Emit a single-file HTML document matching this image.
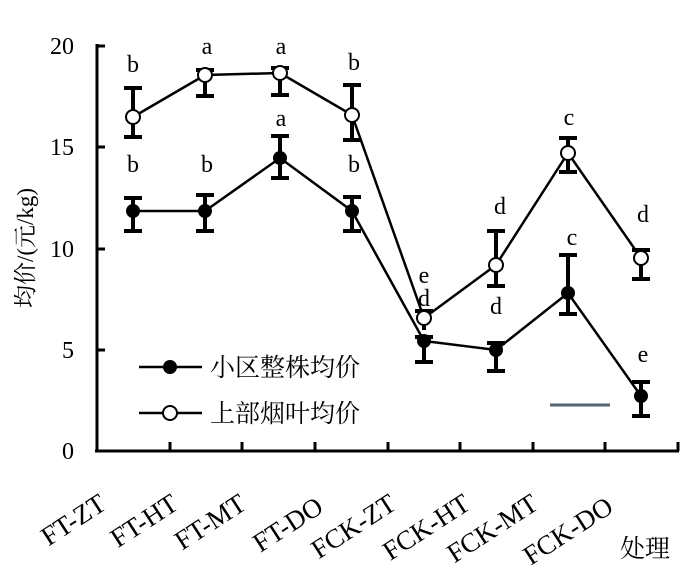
<!DOCTYPE html><html><head><meta charset="utf-8"><style>body{margin:0;background:#fff}</style></head><body>
<svg width="697" height="575" xmlns="http://www.w3.org/2000/svg" font-family="Liberation Serif, Noto Serif CJK SC, serif">
<g stroke="#000" stroke-width="3" fill="none">
<line x1="97" y1="44" x2="97" y2="452"/><line x1="95" y1="451" x2="679" y2="451"/>
<line x1="97" y1="46" x2="105" y2="46"/><line x1="97" y1="147" x2="105" y2="147"/><line x1="97" y1="249" x2="105" y2="249"/><line x1="97" y1="350" x2="105" y2="350"/>
<line x1="170" y1="451" x2="170" y2="442"/><line x1="242" y1="451" x2="242" y2="442"/><line x1="315" y1="451" x2="315" y2="442"/><line x1="388" y1="451" x2="388" y2="442"/><line x1="460" y1="451" x2="460" y2="442"/><line x1="533" y1="451" x2="533" y2="442"/><line x1="605" y1="451" x2="605" y2="442"/><line x1="678" y1="451" x2="678" y2="442"/>
</g>
<g font-size="24" text-anchor="end"><text x="74" y="54">20</text><text x="74" y="155">15</text><text x="74" y="257">10</text><text x="74" y="358">5</text><text x="74" y="459">0</text></g>
<text transform="translate(33,248) rotate(-90)" font-size="23" text-anchor="middle">均价/(元/kg)</text>
<g stroke="#000" stroke-width="2.5" fill="none">
<polyline points="133,211 205,211 280,158 352,211 424,341 496,350 568,293 641,396"/>
<polyline points="133,117 205,75 280,73 352,115 424,318 496,265 568,153 641,258"/>
</g>
<g stroke="#000" stroke-width="4">
<path d="M133,88V137M124,88H142M124,137H142 M205,70V96M196,70H214M196,96H214 M280,68V95M271,68H289M271,95H289 M352,85V140M343,85H361M343,140H361 M424,311V330M415,311H433 M496,231V286M487,231H505M487,286H505 M568,138V172M559,138H577M559,172H577 M641,250V279M632,250H650M632,279H650"/>
<path d="M133,198V231M124,198H142M124,231H142 M205,195V231M196,195H214M196,231H214 M280,136V178M271,136H289M271,178H289 M352,197V231M343,197H361M343,231H361 M424,337V362M415,337H433M415,362H433 M496,343V371M487,343H505M487,371H505 M568,255V314M559,255H577M559,314H577 M641,382V416M632,382H650M632,416H650"/>
</g>
<g fill="#000"><circle cx="133" cy="211" r="7"/><circle cx="205" cy="211" r="7"/><circle cx="280" cy="158" r="7"/><circle cx="352" cy="211" r="7"/><circle cx="424" cy="341" r="7"/><circle cx="496" cy="350" r="7"/><circle cx="568" cy="293" r="7"/><circle cx="641" cy="396" r="7"/></g>
<g fill="#fff" stroke="#000" stroke-width="2"><circle cx="133" cy="117" r="7"/><circle cx="205" cy="75" r="7"/><circle cx="280" cy="73" r="7"/><circle cx="352" cy="115" r="7"/><circle cx="424" cy="318" r="7"/><circle cx="496" cy="265" r="7"/><circle cx="568" cy="153" r="7"/><circle cx="641" cy="258" r="7"/></g>
<g font-size="24" text-anchor="middle">
<text x="133" y="72">b</text><text x="207" y="54">a</text><text x="281" y="54">a</text><text x="354" y="70">b</text>
<text x="133" y="172">b</text><text x="207" y="172">b</text><text x="281" y="126">a</text><text x="354" y="172">b</text>
<text x="424" y="283">e</text><text x="424" y="306">d</text><text x="500" y="214">d</text><text x="569" y="125">c</text><text x="643" y="222">d</text>
<text x="496" y="314">d</text><text x="572" y="245">c</text><text x="643" y="362">e</text>
</g>
<line x1="139" y1="367" x2="202" y2="367" stroke="#000" stroke-width="2.5"/><circle cx="170" cy="367" r="7"/>
<text x="210" y="376" font-size="25">小区整株均价</text>
<line x1="139" y1="413" x2="202" y2="413" stroke="#000" stroke-width="2.5"/><circle cx="170" cy="413" r="7" fill="#fff" stroke="#000" stroke-width="2"/>
<text x="210" y="422" font-size="25">上部烟叶均价</text>
<line x1="550" y1="405" x2="610" y2="405" stroke="#546570" stroke-width="3"/>
<g font-size="27" text-anchor="end">
<text transform="translate(108,508) rotate(-33)">FT-ZT</text>
<text transform="translate(180,508) rotate(-33)">FT-HT</text>
<text transform="translate(248,508) rotate(-33)">FT-MT</text>
<text transform="translate(325,511) rotate(-33)">FT-DO</text>
<text transform="translate(398,508) rotate(-33)">FCK-ZT</text>
<text transform="translate(472,508) rotate(-33)">FCK-HT</text>
<text transform="translate(540,508) rotate(-33)">FCK-MT</text>
<text transform="translate(615,511) rotate(-33)">FCK-DO</text>
</g>
<text x="620" y="557" font-size="25">处理</text>
</svg></body></html>
